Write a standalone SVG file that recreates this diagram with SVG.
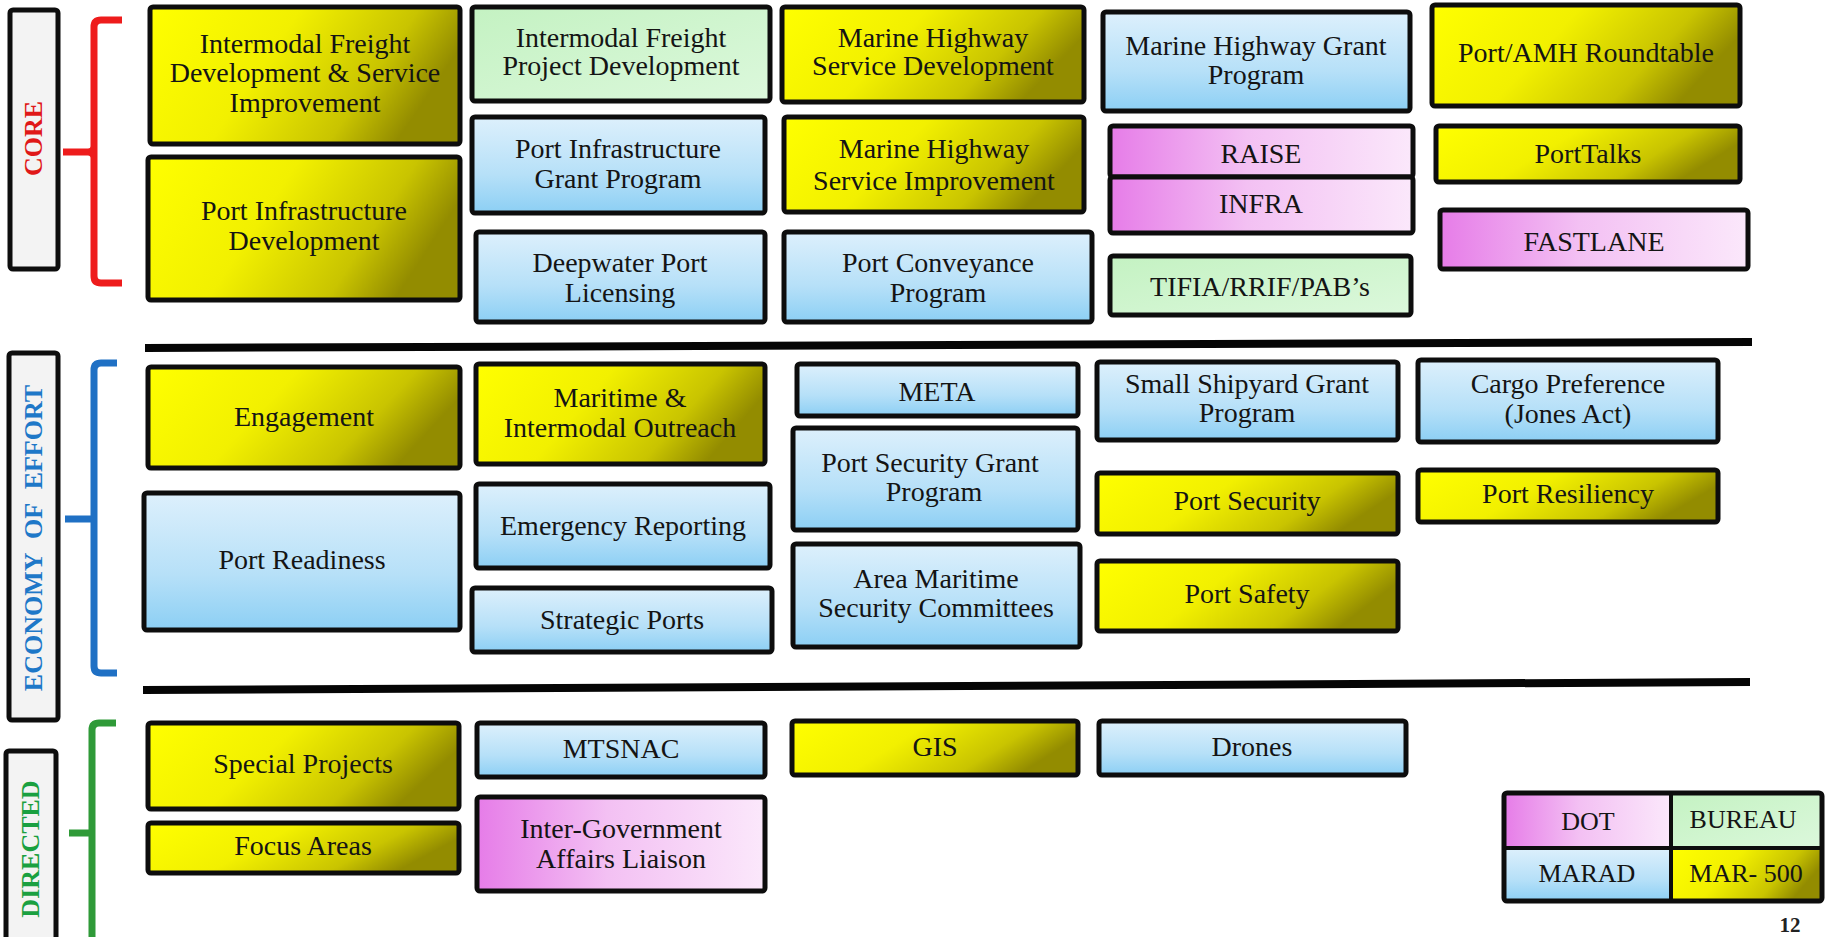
<svg xmlns="http://www.w3.org/2000/svg" width="1825" height="937" viewBox="0 0 1825 937">
<defs>
<linearGradient id="gy" x1="0" y1="0" x2="1" y2="0.3">
<stop offset="0" stop-color="#ffff00"/><stop offset="0.45" stop-color="#f2f000"/><stop offset="0.8" stop-color="#c9c400"/><stop offset="1" stop-color="#938c00"/>
</linearGradient>
<linearGradient id="gb" x1="0" y1="0" x2="0" y2="1">
<stop offset="0" stop-color="#ddf0fc"/><stop offset="0.6" stop-color="#b6e0f8"/><stop offset="1" stop-color="#8ccff4"/>
</linearGradient>
<linearGradient id="gp" x1="0" y1="0" x2="1" y2="0">
<stop offset="0" stop-color="#e67ce8"/><stop offset="0.45" stop-color="#f3c0f3"/><stop offset="1" stop-color="#fbe8fb"/>
</linearGradient>
<linearGradient id="gg" x1="0" y1="0" x2="1" y2="1">
<stop offset="0" stop-color="#c4f2c2"/><stop offset="1" stop-color="#dcf8dc"/>
</linearGradient>
<style>
.bx{stroke:#0d0d0d;stroke-width:5}
.y{fill:url(#gy)} .b{fill:url(#gb)} .p{fill:url(#gp)} .g{fill:url(#gg)}
.t{font-family:"Liberation Serif","Times New Roman",serif;font-size:28px;fill:#141414;text-anchor:middle}
.lt{font-family:"Liberation Serif","Times New Roman",serif;font-size:26px;fill:#141414;text-anchor:middle}
.lab{fill:#f3f3f3;stroke:#0d0d0d;stroke-width:5}
.lbt{font-family:"Liberation Serif","Times New Roman",serif;font-size:26px;font-weight:bold;text-anchor:middle}
.br{fill:none;stroke-width:7}
.sep{stroke:#050505;stroke-width:8}
</style>
</defs>
<rect width="1825" height="937" fill="#ffffff"/>

<g id="sections">
<rect class="lab" x="10" y="10" width="48" height="259" rx="3"/>
<text class="lbt" fill="#e01818" transform="translate(41.5,138.5) rotate(-90)">CORE</text>
<rect class="lab" x="9" y="353" width="49" height="367" rx="3"/>
<text class="lbt" fill="#1e78c8" word-spacing="8" transform="translate(41.5,538) rotate(-90)">ECONOMY OF EFFORT</text>
<rect class="lab" x="6" y="751" width="50" height="200" rx="3"/>
<text class="lbt" fill="#1aa040" transform="translate(39,849) rotate(-90)">DIRECTED</text>
<path class="br" stroke="#ee1c1c" d="M122,20 H101 Q94,20 94,27 V276 Q94,283 101,283 H122 M63,152 H88 Q94,152 94,146 M94,158 Q94,152 88,152"/>
<path class="br" stroke="#1f70c4" d="M117,363 H101 Q94,363 94,370 V666 Q94,673 101,673 H117 M65,519 H94"/>
<path class="br" stroke="#2f9a38" d="M116,723 H99 Q92,723 92,730 V950 M69,833 H92"/>
</g>

<g id="connectors">
<line class="sep" x1="145" y1="348" x2="1752" y2="342"/>
<line class="sep" x1="143" y1="690" x2="1750" y2="682"/>
</g>

<g id="n1"><rect class="bx y" x="150" y="7" width="310" height="137" rx="3"/>
<text class="t" x="305" y="53">Intermodal Freight</text><text class="t" x="305" y="82">Development &amp; Service</text><text class="t" x="305" y="112">Improvement</text></g>
<g id="n2"><rect class="bx y" x="148" y="157" width="312" height="143" rx="3"/>
<text class="t" x="304" y="220">Port Infrastructure</text><text class="t" x="304" y="250">Development</text></g>
<g id="n3"><rect class="bx g" x="472" y="7" width="298" height="94" rx="3"/>
<text class="t" x="621" y="47">Intermodal Freight</text><text class="t" x="621" y="75">Project Development</text></g>
<g id="n4"><rect class="bx b" x="472" y="117" width="293" height="96" rx="3"/>
<text class="t" x="618" y="158">Port Infrastructure</text><text class="t" x="618" y="188">Grant Program</text></g>
<g id="n5"><rect class="bx b" x="476" y="232" width="289" height="90" rx="3"/>
<text class="t" x="620" y="272">Deepwater Port</text><text class="t" x="620" y="302">Licensing</text></g>
<g id="n6"><rect class="bx y" x="782" y="7" width="302" height="95" rx="3"/>
<text class="t" x="933" y="47">Marine Highway</text><text class="t" x="933" y="75">Service Development</text></g>
<g id="n7"><rect class="bx y" x="784" y="117" width="300" height="95" rx="3"/>
<text class="t" x="934" y="158">Marine Highway</text><text class="t" x="934" y="190">Service Improvement</text></g>
<g id="n8"><rect class="bx b" x="784" y="232" width="308" height="90" rx="3"/>
<text class="t" x="938" y="272">Port Conveyance</text><text class="t" x="938" y="302">Program</text></g>
<g id="n9"><rect class="bx b" x="1103" y="12" width="307" height="99" rx="3"/>
<text class="t" x="1256" y="55">Marine Highway Grant</text><text class="t" x="1256" y="84">Program</text></g>
<g id="n10"><rect class="bx p" x="1110" y="126" width="303" height="51" rx="3"/>
<text class="t" x="1261" y="163">RAISE</text></g>
<g id="n11"><rect class="bx p" x="1110" y="177" width="303" height="56" rx="3"/>
<text class="t" x="1261" y="213">INFRA</text></g>
<g id="n12"><rect class="bx g" x="1110" y="256" width="301" height="59" rx="3"/>
<text class="t" x="1260" y="296">TIFIA/RRIF/PAB’s</text></g>
<g id="n13"><rect class="bx y" x="1432" y="5" width="308" height="101" rx="3"/>
<text class="t" x="1586" y="62">Port/AMH Roundtable</text></g>
<g id="n14"><rect class="bx y" x="1436" y="126" width="304" height="56" rx="3"/>
<text class="t" x="1588" y="163">PortTalks</text></g>
<g id="n15"><rect class="bx p" x="1440" y="210" width="308" height="59" rx="3"/>
<text class="t" x="1594" y="251">FASTLANE</text></g>

<g id="n16"><rect class="bx y" x="148" y="367" width="312" height="101" rx="3"/>
<text class="t" x="304" y="426">Engagement</text></g>
<g id="n17"><rect class="bx b" x="144" y="493" width="316" height="137" rx="3"/>
<text class="t" x="302" y="569">Port Readiness</text></g>
<g id="n18"><rect class="bx y" x="476" y="364" width="289" height="100" rx="3"/>
<text class="t" x="620" y="407">Maritime &amp;</text><text class="t" x="620" y="437">Intermodal Outreach</text></g>
<g id="n19"><rect class="bx b" x="476" y="484" width="294" height="84" rx="3"/>
<text class="t" x="623" y="535">Emergency Reporting</text></g>
<g id="n20"><rect class="bx b" x="472" y="588" width="300" height="64" rx="3"/>
<text class="t" x="622" y="629">Strategic Ports</text></g>
<g id="n21"><rect class="bx b" x="797" y="364" width="281" height="52" rx="3"/>
<text class="t" x="937" y="401">META</text></g>
<g id="n22"><rect class="bx b" x="793" y="428" width="285" height="102" rx="3"/>
<text class="t" x="930" y="472">Port Security Grant</text><text class="t" x="934" y="501">Program</text></g>
<g id="n23"><rect class="bx b" x="793" y="544" width="287" height="103" rx="3"/>
<text class="t" x="936" y="588">Area Maritime</text><text class="t" x="936" y="617">Security Committees</text></g>
<g id="n24"><rect class="bx b" x="1097" y="362" width="301" height="78" rx="3"/>
<text class="t" x="1247" y="393">Small Shipyard Grant</text><text class="t" x="1247" y="422">Program</text></g>
<g id="n25"><rect class="bx y" x="1097" y="473" width="301" height="61" rx="3"/>
<text class="t" x="1247" y="510">Port Security</text></g>
<g id="n26"><rect class="bx y" x="1097" y="561" width="301" height="70" rx="3"/>
<text class="t" x="1247" y="603">Port Safety</text></g>
<g id="n27"><rect class="bx b" x="1418" y="360" width="300" height="82" rx="3"/>
<text class="t" x="1568" y="393">Cargo Preference</text><text class="t" x="1568" y="423">(Jones Act)</text></g>
<g id="n28"><rect class="bx y" x="1418" y="470" width="300" height="52" rx="3"/>
<text class="t" x="1568" y="503">Port Resiliency</text></g>

<g id="n29"><rect class="bx y" x="148" y="723" width="311" height="86" rx="3"/>
<text class="t" x="303" y="773">Special Projects</text></g>
<g id="n30"><rect class="bx y" x="148" y="823" width="311" height="50" rx="3"/>
<text class="t" x="303" y="855">Focus Areas</text></g>
<g id="n31"><rect class="bx b" x="477" y="723" width="288" height="54" rx="3"/>
<text class="t" x="621" y="758">MTSNAC</text></g>
<g id="n32"><rect class="bx p" x="477" y="797" width="288" height="94" rx="3"/>
<text class="t" x="621" y="838">Inter-Government</text><text class="t" x="621" y="868">Affairs Liaison</text></g>
<g id="n33"><rect class="bx y" x="792" y="721" width="286" height="54" rx="3"/>
<text class="t" x="935" y="756">GIS</text></g>
<g id="n34"><rect class="bx b" x="1099" y="721" width="307" height="54" rx="3"/>
<text class="t" x="1252" y="756">Drones</text></g>

<g id="legend">
<rect class="p" x="1504" y="793" width="167" height="55"/>
<rect class="g" x="1671" y="793" width="152" height="55"/>
<rect class="b" x="1504" y="848" width="167" height="53"/>
<rect class="y" x="1671" y="848" width="152" height="53"/>
<line x1="1671" y1="793" x2="1671" y2="901" stroke="#0d0d0d" stroke-width="4"/>
<line x1="1504" y1="848" x2="1823" y2="848" stroke="#0d0d0d" stroke-width="4"/>
<rect x="1504" y="793" width="318" height="108" rx="3" fill="none" stroke="#0d0d0d" stroke-width="5"/>
<text class="lt" x="1588" y="830">DOT</text>
<text class="lt" x="1743" y="828">BUREAU</text>
<text class="lt" x="1587" y="882">MARAD</text>
<text class="lt" x="1746" y="882">MAR- 500</text>
</g>
<text x="1790" y="932" font-family="Liberation Serif, serif" font-size="21" font-weight="bold" fill="#222" text-anchor="middle">12</text>
</svg>
